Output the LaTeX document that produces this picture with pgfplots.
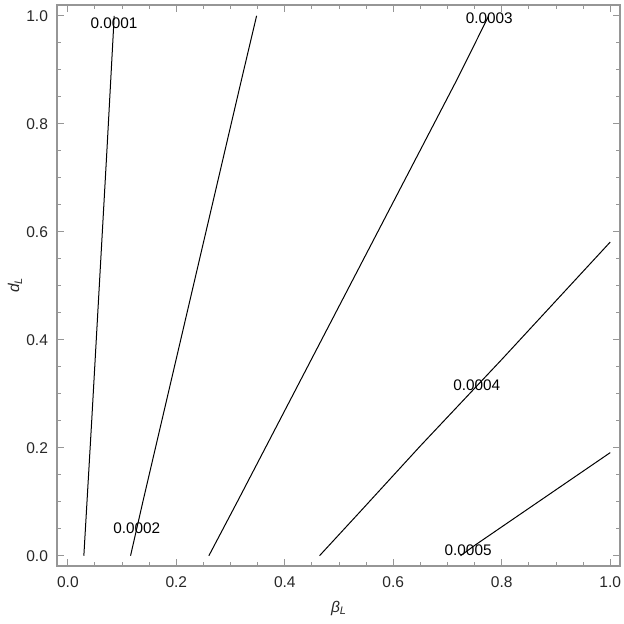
\documentclass[border=0pt]{standalone}
\usepackage{fontspec}
\setmainfont{Liberation Sans}
\usepackage{pgfplots}
\pgfplotsset{compat=1.18}
\definecolor{framegray}{RGB}{150,150,150}
\definecolor{labgray}{RGB}{40,40,40}
\begin{document}
\begin{tikzpicture}
\begin{axis}[
  scale only axis,
  width=281.5bp, height=280.5bp,
  xmin=-0.02, xmax=1.018, ymin=-0.019, ymax=1.02,
  axis line style={framegray, line width=0.6bp},
  tick style={framegray, line width=0.5bp},
  major tick length=3.5bp, minor tick length=2bp,
  tick align=inside,
  xtick={0,0.2,...,1.0}, ytick={0,0.2,...,1.0},
  minor tick num=3,
  xticklabels={0.0,0.2,0.4,0.6,0.8,1.0},
  yticklabels={0.0,0.2,0.4,0.6,0.8,1.0},
  /pgf/number format/assume math mode=true,
  tick label style={font=\fontsize{7.8}{9}\selectfont, text=labgray},
  xticklabel style={anchor=center, yshift=-8.3bp},
  yticklabel style={anchor=east, xshift=-1bp},
  xlabel={\itshape β\raisebox{-0.35ex}{\fontsize{5.5}{6}\selectfont L}},
  ylabel={\itshape d\raisebox{-0.35ex}{\fontsize{5.5}{6}\selectfont L}},
  label style={font=\fontsize{7.8}{9}\selectfont, text=labgray},
  xlabel style={at={(axis description cs:0.5,0)}, anchor=center, yshift=-21bp},
  ylabel style={at={(axis description cs:0,0.5)}, anchor=center, yshift=21bp},
  clip=true,
]
\addplot[black, line width=0.5bp] coordinates {(0.0295,0) (0.044,0.25) (0.058,0.5) (0.072,0.75) (0.0855,1.0)};
\addplot[black, line width=0.5bp] coordinates {(0.1156,0) (0.139,0.103) (0.320,0.881) (0.348,1.0)};
\addplot[black, line width=0.5bp] coordinates {(0.260,0) (0.314,0.103) (0.717,0.881) (0.776,1.0)};
\addplot[black, line width=0.5bp] coordinates {(0.464,0) (0.539,0.0817) (0.649,0.2024) (0.800,0.3635) (1.0,0.581)};
\addplot[black, line width=0.5bp] coordinates {(0.724,0) (0.751,0.0198) (1.0,0.191)};
\node[font=\fontsize{7.7}{9}\selectfont, inner sep=0pt] at (axis cs:0.0852,0.987) {0.0001};
\node[font=\fontsize{7.7}{9}\selectfont, inner sep=0pt] at (axis cs:0.127,0.0507) {0.0002};
\node[font=\fontsize{7.7}{9}\selectfont, inner sep=0pt] at (axis cs:0.777,0.995) {0.0003};
\node[font=\fontsize{7.7}{9}\selectfont, inner sep=0pt] at (axis cs:0.754,0.316) {0.0004};
\node[font=\fontsize{7.7}{9}\selectfont, inner sep=0pt] at (axis cs:0.738,0.0106) {0.0005};
\end{axis}
\pgfresetboundingbox
\path ([shift={(-28.5bp,-29bp)}]current axis.south west) rectangle ([shift={(2bp,2.5bp)}]current axis.north east);
\end{tikzpicture}
\end{document}
